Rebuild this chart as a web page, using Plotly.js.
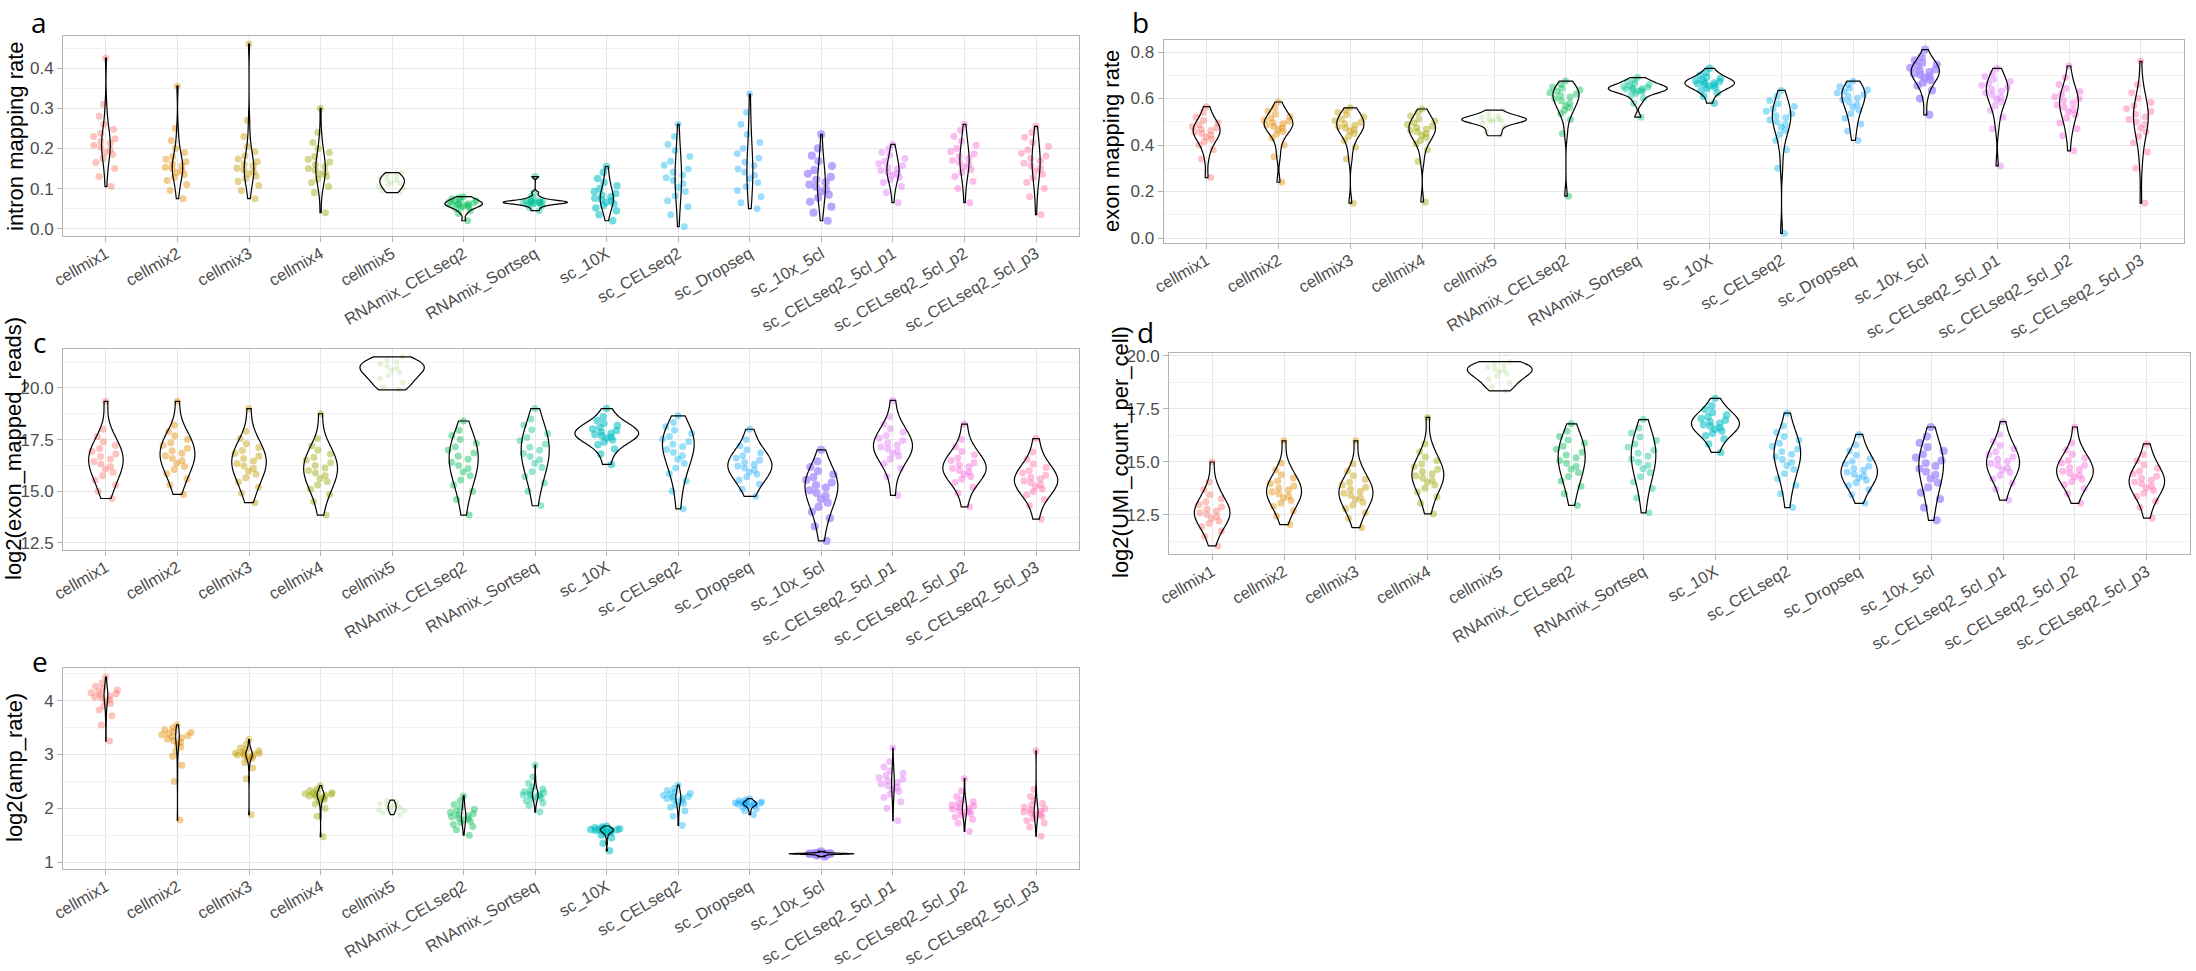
<!DOCTYPE html>
<html><head><meta charset="utf-8">
<script src="https://cdn.plot.ly/plotly-3.0.1.min.js"></script>
<style>html,body{margin:0;padding:0;background:#fff}#chart{width:2196px;height:971px}</style>
</head><body><div id="chart"></div>
<script>
// ---------------- DATA ----------------
const categories = ["cellmix1","cellmix2","cellmix3","cellmix4","cellmix5","RNAmix_CELseq2","RNAmix_Sortseq","sc_10X","sc_CELseq2","sc_Dropseq","sc_10x_5cl","sc_CELseq2_5cl_p1","sc_CELseq2_5cl_p2","sc_CELseq2_5cl_p3"];
// approximate number of cells per group (density of the jittered clouds)
const nCells = [340,340,340,340,14,340,296,902,274,225,3918,305,305,305];

// representative per-group values (one list per category, in category order)
const intronMappingRate = [
 [0.105,0.13,0.15,0.165,0.175,0.185,0.19,0.197,0.203,0.208,0.213,0.218,0.224,0.23,0.238,0.248,0.26,0.28,0.31,0.425],
 [0.075,0.095,0.11,0.12,0.128,0.135,0.14,0.145,0.15,0.153,0.157,0.162,0.167,0.173,0.18,0.19,0.2,0.22,0.25,0.355],
 [0.075,0.095,0.108,0.118,0.125,0.131,0.137,0.142,0.147,0.151,0.156,0.161,0.167,0.174,0.182,0.192,0.205,0.23,0.27,0.46],
 [0.04,0.09,0.105,0.115,0.123,0.13,0.136,0.141,0.146,0.15,0.155,0.16,0.166,0.173,0.18,0.19,0.2,0.215,0.24,0.3],
 [0.09,0.095,0.1,0.105,0.11,0.113,0.116,0.12,0.123,0.127,0.131,0.135,0.14],
 [0.02,0.038,0.045,0.05,0.053,0.055,0.057,0.059,0.06,0.061,0.062,0.063,0.065,0.066,0.068,0.07,0.072,0.075,0.078,0.08],
 [0.045,0.052,0.057,0.06,0.062,0.063,0.064,0.065,0.0655,0.066,0.0665,0.067,0.068,0.069,0.07,0.072,0.075,0.08,0.09,0.13],
 [0.02,0.035,0.045,0.052,0.058,0.062,0.066,0.07,0.073,0.076,0.08,0.084,0.088,0.093,0.1,0.107,0.115,0.125,0.14,0.155],
 [0.005,0.035,0.055,0.07,0.082,0.093,0.103,0.112,0.12,0.127,0.134,0.141,0.149,0.158,0.168,0.18,0.195,0.21,0.23,0.26],
 [0.05,0.065,0.08,0.095,0.105,0.115,0.125,0.133,0.141,0.149,0.157,0.166,0.176,0.187,0.2,0.215,0.235,0.26,0.29,0.335],
 [0.02,0.04,0.055,0.067,0.077,0.085,0.092,0.098,0.104,0.11,0.116,0.122,0.129,0.137,0.146,0.156,0.168,0.182,0.2,0.235],
 [0.065,0.09,0.105,0.115,0.122,0.128,0.133,0.137,0.141,0.145,0.149,0.153,0.157,0.162,0.168,0.175,0.183,0.19,0.2,0.21],
 [0.065,0.1,0.118,0.13,0.14,0.147,0.154,0.16,0.165,0.17,0.175,0.18,0.186,0.192,0.2,0.208,0.218,0.23,0.245,0.26],
 [0.035,0.08,0.1,0.115,0.127,0.136,0.144,0.151,0.157,0.163,0.169,0.175,0.181,0.188,0.196,0.205,0.215,0.228,0.24,0.255]
];
const exonMappingRate = [
 [0.26,0.34,0.38,0.4,0.415,0.425,0.435,0.443,0.45,0.456,0.462,0.468,0.474,0.48,0.487,0.495,0.505,0.52,0.54,0.565],
 [0.24,0.35,0.4,0.43,0.447,0.458,0.467,0.474,0.48,0.486,0.491,0.496,0.502,0.508,0.515,0.523,0.532,0.545,0.56,0.585],
 [0.15,0.34,0.39,0.42,0.438,0.45,0.46,0.467,0.473,0.479,0.485,0.491,0.497,0.504,0.511,0.52,0.53,0.54,0.55,0.56],
 [0.155,0.33,0.38,0.405,0.42,0.432,0.442,0.45,0.457,0.463,0.469,0.475,0.481,0.488,0.495,0.503,0.512,0.525,0.54,0.555],
 [0.44,0.46,0.48,0.495,0.5,0.505,0.508,0.511,0.514,0.518,0.525,0.535,0.55],
 [0.18,0.45,0.51,0.535,0.55,0.56,0.57,0.58,0.59,0.6,0.607,0.613,0.619,0.625,0.631,0.637,0.643,0.65,0.66,0.675],
 [0.52,0.58,0.6,0.615,0.622,0.628,0.632,0.636,0.639,0.641,0.643,0.645,0.648,0.651,0.655,0.66,0.665,0.672,0.68,0.69],
 [0.58,0.61,0.625,0.635,0.642,0.648,0.653,0.657,0.661,0.664,0.667,0.67,0.673,0.677,0.681,0.686,0.692,0.7,0.712,0.73],
 [0.02,0.3,0.38,0.42,0.445,0.463,0.477,0.489,0.499,0.508,0.517,0.526,0.535,0.545,0.555,0.566,0.578,0.592,0.61,0.635],
 [0.42,0.46,0.49,0.515,0.535,0.55,0.563,0.575,0.585,0.594,0.602,0.61,0.617,0.624,0.63,0.637,0.644,0.651,0.66,0.675],
 [0.53,0.6,0.635,0.655,0.668,0.679,0.688,0.695,0.702,0.708,0.714,0.72,0.726,0.732,0.739,0.746,0.754,0.764,0.778,0.81],
 [0.31,0.47,0.52,0.55,0.57,0.585,0.597,0.607,0.616,0.624,0.632,0.64,0.648,0.656,0.664,0.673,0.683,0.695,0.71,0.73],
 [0.375,0.44,0.47,0.495,0.515,0.53,0.542,0.553,0.563,0.572,0.581,0.59,0.599,0.608,0.618,0.63,0.643,0.66,0.69,0.74],
 [0.15,0.3,0.37,0.41,0.437,0.457,0.473,0.487,0.499,0.51,0.521,0.532,0.544,0.556,0.569,0.583,0.6,0.625,0.66,0.76]
];
const log2ExonMappedReads = [
 [14.65,15.0,15.3,15.55,15.75,15.92,16.07,16.2,16.32,16.44,16.56,16.68,16.8,16.93,17.07,17.22,17.4,17.65,18.0,19.35],
 [14.85,15.3,15.6,15.85,16.05,16.2,16.35,16.48,16.6,16.72,16.84,16.96,17.08,17.21,17.35,17.5,17.68,17.9,18.2,19.35],
 [14.45,14.9,15.2,15.45,15.65,15.82,15.97,16.1,16.22,16.34,16.46,16.58,16.7,16.83,16.97,17.12,17.3,17.55,17.9,19.0],
 [13.85,14.5,14.85,15.1,15.3,15.47,15.62,15.76,15.89,16.01,16.13,16.25,16.38,16.51,16.65,16.8,16.98,17.2,17.55,18.75],
 [19.9,20.05,20.25,20.45,20.6,20.75,20.85,20.95,21.05,21.15,21.25,21.35,21.5],
 [13.85,14.6,15.0,15.3,15.55,15.75,15.93,16.1,16.25,16.4,16.55,16.7,16.85,17.0,17.15,17.32,17.5,17.7,17.95,18.4],
 [14.3,15.0,15.4,15.7,15.95,16.15,16.35,16.52,16.68,16.83,16.98,17.13,17.28,17.44,17.6,17.78,17.97,18.2,18.5,19.0],
 [16.3,16.8,17.05,17.25,17.38,17.48,17.56,17.63,17.69,17.75,17.81,17.87,17.94,18.01,18.09,18.18,18.28,18.42,18.6,19.0],
 [14.15,15.0,15.5,15.85,16.12,16.35,16.55,16.72,16.88,17.02,17.15,17.28,17.4,17.52,17.65,17.8,17.95,18.12,18.33,18.65],
 [14.75,15.1,15.35,15.55,15.7,15.82,15.93,16.03,16.12,16.21,16.3,16.4,16.5,16.6,16.72,16.85,17.0,17.2,17.5,18.0],
 [12.6,13.3,13.7,14.0,14.25,14.45,14.62,14.78,14.92,15.05,15.18,15.3,15.42,15.55,15.68,15.82,15.98,16.17,16.45,17.0],
 [14.8,15.7,16.1,16.35,16.55,16.7,16.83,16.94,17.04,17.14,17.24,17.34,17.45,17.57,17.7,17.85,18.02,18.25,18.6,19.4],
 [14.25,14.9,15.2,15.42,15.58,15.71,15.82,15.92,16.01,16.1,16.19,16.28,16.38,16.49,16.61,16.75,16.92,17.15,17.5,18.25],
 [13.65,14.3,14.6,14.82,14.98,15.11,15.22,15.32,15.41,15.5,15.59,15.68,15.78,15.89,16.01,16.15,16.32,16.55,16.9,17.55]
];
const log2UmiCountPerCell = [
 [11.04,11.5,11.75,11.95,12.1,12.22,12.33,12.43,12.52,12.6,12.69,12.78,12.88,12.99,13.12,13.27,13.45,13.7,14.05,15.0],
 [12.05,12.45,12.7,12.9,13.05,13.18,13.3,13.4,13.5,13.59,13.68,13.77,13.87,13.98,14.1,14.24,14.4,14.62,14.95,16.0],
 [11.9,12.35,12.6,12.8,12.96,13.1,13.22,13.33,13.43,13.52,13.61,13.71,13.81,13.92,14.04,14.18,14.35,14.58,14.92,16.0],
 [12.55,13.05,13.35,13.58,13.76,13.91,14.04,14.15,14.25,14.35,14.45,14.55,14.66,14.78,14.91,15.06,15.24,15.48,15.85,17.1],
 [18.35,18.55,18.75,18.92,19.05,19.15,19.25,19.33,19.4,19.48,19.56,19.64,19.73],
 [12.95,13.5,13.85,14.1,14.32,14.5,14.66,14.8,14.94,15.07,15.2,15.33,15.46,15.6,15.74,15.89,16.04,16.2,16.45,16.8],
 [12.6,13.3,13.75,14.05,14.3,14.5,14.68,14.84,14.99,15.13,15.27,15.41,15.55,15.7,15.85,16.01,16.18,16.37,16.6,17.0],
 [15.45,15.85,16.08,16.24,16.36,16.46,16.54,16.62,16.69,16.76,16.83,16.9,16.97,17.05,17.13,17.22,17.33,17.47,17.65,18.0],
 [12.85,13.5,13.9,14.2,14.45,14.65,14.83,14.98,15.12,15.25,15.37,15.49,15.61,15.74,15.88,16.03,16.2,16.4,16.7,17.3],
 [13.05,13.45,13.7,13.88,14.02,14.14,14.25,14.34,14.43,14.52,14.61,14.7,14.8,14.91,15.03,15.16,15.32,15.52,15.8,16.3],
 [12.25,12.85,13.25,13.55,13.8,14.02,14.22,14.39,14.54,14.68,14.81,14.94,15.07,15.21,15.36,15.52,15.7,15.9,16.2,16.65],
 [13.2,13.7,14.0,14.2,14.36,14.5,14.62,14.73,14.83,14.93,15.03,15.13,15.24,15.35,15.48,15.62,15.78,15.98,16.3,16.9],
 [13.05,13.5,13.75,13.93,14.07,14.19,14.29,14.38,14.47,14.56,14.65,14.74,14.84,14.95,15.07,15.2,15.36,15.56,15.9,16.65],
 [12.35,12.85,13.15,13.37,13.53,13.66,13.77,13.87,13.96,14.05,14.14,14.23,14.33,14.44,14.56,14.7,14.86,15.06,15.35,15.85]
];
const log2AmpRate = [
 [3.25,3.55,3.72,3.83,3.9,3.95,3.99,4.02,4.05,4.07,4.09,4.11,4.13,4.15,4.17,4.2,4.23,4.27,4.33,4.44],
 [1.78,2.5,2.8,2.97,3.07,3.14,3.19,3.23,3.26,3.29,3.31,3.33,3.35,3.37,3.39,3.41,3.43,3.46,3.5,3.55],
 [1.88,2.55,2.75,2.85,2.9,2.93,2.95,2.97,2.98,2.99,3.0,3.01,3.02,3.03,3.05,3.07,3.09,3.12,3.18,3.28],
 [1.47,1.85,2.0,2.08,2.13,2.16,2.18,2.2,2.22,2.23,2.24,2.25,2.26,2.27,2.28,2.29,2.31,2.33,2.36,2.42],
 [1.88,1.92,1.95,1.97,1.99,2.01,2.03,2.05,2.07,2.09,2.12,2.15],
 [1.5,1.6,1.66,1.7,1.73,1.76,1.78,1.8,1.82,1.84,1.86,1.88,1.9,1.92,1.95,1.98,2.02,2.07,2.14,2.23],
 [1.93,2.05,2.1,2.14,2.17,2.19,2.21,2.23,2.24,2.25,2.26,2.27,2.29,2.31,2.33,2.36,2.4,2.46,2.58,2.8],
 [1.21,1.35,1.45,1.5,1.53,1.55,1.56,1.57,1.58,1.585,1.59,1.595,1.6,1.605,1.61,1.62,1.63,1.64,1.65,1.67],
 [1.68,1.85,1.95,2.02,2.06,2.09,2.12,2.14,2.16,2.18,2.19,2.21,2.22,2.24,2.26,2.28,2.3,2.33,2.37,2.43],
 [1.88,1.95,1.99,2.02,2.04,2.05,2.06,2.07,2.075,2.08,2.085,2.09,2.095,2.1,2.11,2.12,2.13,2.14,2.16,2.18],
 [1.1,1.12,1.13,1.14,1.143,1.146,1.148,1.15,1.151,1.152,1.153,1.154,1.155,1.156,1.158,1.16,1.163,1.167,1.175,1.2],
 [1.77,2.0,2.12,2.2,2.26,2.31,2.35,2.39,2.42,2.45,2.48,2.51,2.54,2.57,2.61,2.65,2.7,2.77,2.87,3.12],
 [1.57,1.72,1.79,1.84,1.87,1.9,1.92,1.94,1.96,1.98,2.0,2.02,2.04,2.06,2.09,2.12,2.16,2.22,2.32,2.55],
 [1.48,1.65,1.72,1.77,1.81,1.84,1.87,1.89,1.91,1.93,1.95,1.97,1.99,2.02,2.05,2.09,2.14,2.22,2.35,3.07]
];
const yTitles = ["intron mapping rate","exon mapping rate","log2(exon_mapped_reads)","log2(UMI_count_per_cell)","log2(amp_rate)"];
const panelLetters = ["a","b","c","d","e"];

// ---------------- STYLE / LAYOUT ----------------
const groupColors = ["#F8766D","#E38900","#C49A00","#99A800","#53B400","#00BC56","#00C094","#00BFC4","#00B6EB","#06A4FF","#A58AFF","#DF70F8","#FB61D7","#FF66A8"];
const W = 2196, H = 971;
const FONT = "Liberation Sans, Arial, Helvetica, sans-serif";
// pixel boxes of the panels: [left, right, top, bottom]
const boxes = [[63,1079,36,236],[1163.5,2184,40.4,242.7],[63,1079,348.6,549.6],[1169,2190,353,554],[63,1079,668,869]];
const yAxisCfg = [
  {range:[-0.018,0.48], dtick:0.1, minor:0.05, fmt:".1f"},
  {range:[-0.02,0.85], dtick:0.2, minor:0.1, fmt:".1f"},
  {range:[12.18,21.9], dtick:2.5, minor:1.25, fmt:".1f"},
  {range:[10.66,20.14], dtick:2.5, minor:1.25, fmt:".1f"},
  {range:[0.87,4.61], dtick:1, minor:0.5, fmt:"d"}
];
const titlePos = [[16,136],[1111,141],[14,449],[1120,452],[14,768]];
const letterPos = [[39,22],[1140,22],[39,342],[1145,332],[40,661]];

const panelData = [intronMappingRate, exonMappingRate, log2ExonMappedReads, log2UmiCountPerCell, log2AmpRate];

// denser groups (more cells) get more opaque / larger jitter points
function pointOpacity(n){ const t = Math.max(0, Math.log10(n / 14) / Math.log10(3918 / 14)); return 0.15 + 0.6 * Math.pow(t, 1.3); }
function pointSize(n){ return 5.5 + 1.1 * Math.log10(n / 14); }

const traces = [];
const layout = {width:W, height:H, margin:{l:0,r:0,t:0,b:0}, paper_bgcolor:"#fff", plot_bgcolor:"#fff",
  showlegend:false, violinmode:"overlay", annotations:[], font:{family:FONT}};

panelData.forEach((vals, k) => {
  const xid = k === 0 ? "x" : "x" + (k + 1);
  const yid = k === 0 ? "y" : "y" + (k + 1);
  // jittered points, one trace per group (colour per group)
  vals.forEach((v, g) => {
    traces.push({type:"violin", xaxis:xid, yaxis:yid, x:v.map(() => categories[g]), y:v,
      points:"all", jitter:1, pointpos:0, width:0.46, scalemode:"width", spanmode:"hard",
      line:{width:0, color:"rgba(0,0,0,0)"}, fillcolor:"rgba(0,0,0,0)",
      marker:{color:groupColors[g], size:pointSize(nCells[g]), opacity:pointOpacity(nCells[g]), line:{width:0}},
      hoverinfo:"y", hoveron:"points", showlegend:false, name:categories[g]});
  });
  // violin outlines, all groups in one trace so they share area scaling
  const xs = [], ys = [];
  vals.forEach((v, g) => v.forEach(val => { xs.push(categories[g]); ys.push(val); }));
  traces.push({type:"violin", xaxis:xid, yaxis:yid, x:xs, y:ys, points:false, width:0.9,
    scalemode:"width", spanmode:"hard", line:{color:"#000", width:1.2}, fillcolor:"rgba(0,0,0,0)",
    hoveron:"violins", hoverinfo:"skip", showlegend:false, name:yTitles[k]});

  const b = boxes[k], yc = yAxisCfg[k];
  layout[k === 0 ? "xaxis" : "xaxis" + (k + 1)] = {
    domain:[b[0]/W, b[1]/W], anchor:yid, type:"category", categoryorder:"array", categoryarray:categories,
    range:[-0.6, 13.6], showgrid:true, gridcolor:"#e6e6e6", gridwidth:1, zeroline:false,
    showline:true, mirror:true, linecolor:"#b3b3b3", linewidth:1,
    ticks:"outside", ticklen:5, tickcolor:"#b3b3b3", tickangle:-30, ticklabelstandoff:-4,
    tickfont:{family:FONT, size:16.5, color:"#4d4d4d"}, automargin:false, fixedrange:true};
  layout[k === 0 ? "yaxis" : "yaxis" + (k + 1)] = {
    domain:[1 - b[3]/H, 1 - b[2]/H], anchor:xid, range:yc.range, dtick:yc.dtick, tick0:0, tickformat:yc.fmt,
    showgrid:true, gridcolor:"#e6e6e6", gridwidth:1, zeroline:false,
    minor:{dtick:yc.minor, tick0:0, showgrid:true, gridcolor:"#f2f2f2", gridwidth:1, ticks:""},
    showline:true, mirror:true, linecolor:"#b3b3b3", linewidth:1,
    ticks:"outside", ticklen:5, tickcolor:"#b3b3b3",
    tickfont:{family:FONT, size:17, color:"#4d4d4d"}, automargin:false, fixedrange:true};
  layout.annotations.push({xref:"paper", yref:"paper", x:titlePos[k][0]/W, y:1 - titlePos[k][1]/H,
    text:yTitles[k], textangle:-90, showarrow:false, xanchor:"center", yanchor:"middle",
    font:{family:FONT, size:22, color:"#000"}});
  layout.annotations.push({xref:"paper", yref:"paper", x:letterPos[k][0]/W, y:1 - letterPos[k][1]/H,
    text:panelLetters[k], showarrow:false, xanchor:"center", yanchor:"middle",
    font:{family:"Open Sans, Liberation Sans, sans-serif", size:28, color:"#000"}});
});

Plotly.newPlot("chart", traces, layout, {staticPlot:true, displayModeBar:false});
</script></body></html>
